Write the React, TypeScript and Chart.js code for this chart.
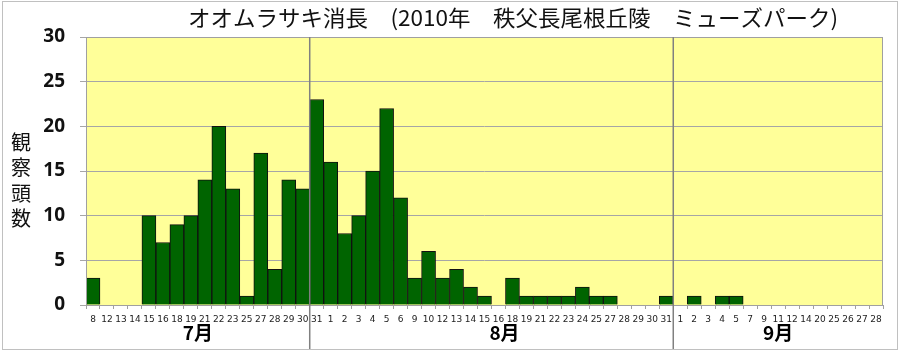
import React, { useEffect, useRef } from "react";
import { Chart, registerables } from "chart.js";

Chart.register(...registerables);

const chartTitle = "オオムラサキ消長　(2010年　秩父長尾根丘陵　ミューズパーク)";
const yAxisTitle = ["観", "察", "頭", "数"];

const julyDays = ["8", "12", "13", "14", "15", "16", "18", "19", "21", "22", "23", "25", "27", "28", "29", "30"];
const julyCounts = [3, 0, 0, 0, 10, 7, 9, 10, 14, 20, 13, 1, 17, 4, 14, 13];

const augustDays = ["31", "1", "2", "3", "4", "5", "6", "9", "10", "12", "13", "14", "15", "16", "18", "19", "21", "22", "23", "24", "25", "27", "28", "29", "30", "31"];
const augustCounts = [23, 16, 8, 10, 15, 22, 12, 3, 6, 3, 4, 2, 1, 0, 3, 1, 1, 1, 1, 2, 1, 1, 0, 0, 0, 1];

const septemberDays = ["1", "2", "3", "4", "5", "7", "9", "11", "12", "14", "20", "25", "26", "27", "28"];
const septemberCounts = [0, 1, 0, 1, 1, 0, 0, 0, 0, 0, 0, 0, 0, 0, 0];

const monthLabels = ["7月", "8月", "9月"];
const yTicks = [0, 5, 10, 15, 20, 25, 30];

const groups = [julyDays, augustDays, septemberDays];
const labels = [...julyDays, ...augustDays, ...septemberDays];
const values = [...julyCounts, ...augustCounts, ...septemberCounts];

const JP = "'Noto Sans CJK JP', 'Noto Sans', sans-serif";

const decorPlugin = {
  id: "decor",
  beforeDraw(chart: any) {
    const { ctx, chartArea } = chart;
    ctx.save();
    ctx.fillStyle = "#ffffff";
    ctx.fillRect(0, 0, chart.width, chart.height);
    ctx.fillStyle = "#FFFF99";
    ctx.fillRect(chartArea.left, chartArea.top, chartArea.right - chartArea.left, chartArea.bottom - chartArea.top);
    ctx.restore();
  },
  afterDraw(chart: any) {
    const { ctx, chartArea, scales } = chart;
    const xs = scales.x;
    const step = xs.getPixelForValue(1) - xs.getPixelForValue(0);
    ctx.save();
    ctx.strokeStyle = "#a0a0a0";
    ctx.lineWidth = 1;
    ctx.strokeRect(chartArea.left + 0.5, chartArea.top + 0.5, chartArea.right - chartArea.left - 1, chartArea.bottom - chartArea.top);
    ctx.strokeStyle = "#c0c0c0";
    ctx.strokeRect(2.5, 1.5, chart.width - 5, chart.height - 6);
    let start = 0;
    groups.forEach((g, gi) => {
      const end = start + g.length;
      const left = xs.getPixelForValue(start) - step / 2;
      const right = xs.getPixelForValue(end - 1) + step / 2;
      if (gi > 0) {
        ctx.strokeStyle = "#808080";
        ctx.lineWidth = 1.5;
        ctx.beginPath();
        ctx.moveTo(left, chartArea.top);
        ctx.lineTo(left, chart.height - 5);
        ctx.stroke();
      }
      // label centred on the days that belong to the month itself
      const firstOwn = gi === 1 ? start + 1 : start;
      const l2 = xs.getPixelForValue(firstOwn) - step / 2;
      ctx.fillStyle = "#000";
      ctx.font = `bold 19px ${JP}`;
      ctx.textAlign = "center";
      ctx.textBaseline = "middle";
      ctx.fillText(monthLabels[gi], (l2 + right) / 2 + (gi === 1 ? 6 : 0), 333);
      start = end;
    });
    // title, stretched to the reference width
    ctx.fillStyle = "#111";
    ctx.font = `22px ${JP}`;
    ctx.textAlign = "center";
    ctx.textBaseline = "middle";
    const w = ctx.measureText(chartTitle).width;
    const target = 650;
    ctx.save();
    ctx.translate(513, 18);
    ctx.scale(target / w, 1);
    ctx.fillText(chartTitle, 0, 0);
    ctx.restore();
    ctx.font = `20px ${JP}`;
    yAxisTitle.forEach((ch, i) => {
      ctx.fillText(ch, 21, 142 + i * 25.5);
    });
    ctx.restore();
  },
};

export default function App() {
  const ref = useRef<HTMLCanvasElement>(null);
  useEffect(() => {
    document.body.style.margin = "0";
    const chart = new Chart(ref.current as HTMLCanvasElement, {
      type: "bar",
      data: {
        labels,
        datasets: [
          {
            data: values,
            backgroundColor: "#006400",
            borderColor: "#111",
            borderWidth: 1,
            barPercentage: 1,
            categoryPercentage: 1,
          },
        ],
      },
      options: {
        animation: false,
        responsive: false,
        layout: { padding: { left: 0, right: 17, top: 37, bottom: 0 } },
        plugins: { legend: { display: false }, tooltip: { enabled: false }, title: { display: false } },
        scales: {
          x: {
            afterFit(scale: any) {
              scale.height = 49;
            },
            grid: { drawOnChartArea: false, tickLength: 4, color: "#a0a0a0", offset: true },
            border: { display: false },
            ticks: {
              autoSkip: false,
              maxRotation: 0,
              minRotation: 0,
              padding: 5,
              color: "#222",
              font: { size: 9, family: "'DejaVu Sans', sans-serif" },
            },
          },
          y: {
            min: 0,
            max: 30,
            afterFit(scale: any) {
              scale.width = 86;
            },
            afterBuildTicks(scale: any) {
              scale.ticks = yTicks.map((v) => ({ value: v }));
            },
            grid: { color: "#a6a6a6", tickLength: 6 },
            border: { display: false },
            ticks: {
              padding: 15,
              color: "#111",
              font: { size: 19, weight: "bold", family: "'Open Sans', sans-serif" },
            },
          },
        },
      },
      plugins: [decorPlugin],
    });
    return () => chart.destroy();
  }, []);
  return (
    <div style={{ width: 900, height: 354 }}>
      <canvas ref={ref} width={900} height={354} style={{ display: "block" }} />
    </div>
  );
}
